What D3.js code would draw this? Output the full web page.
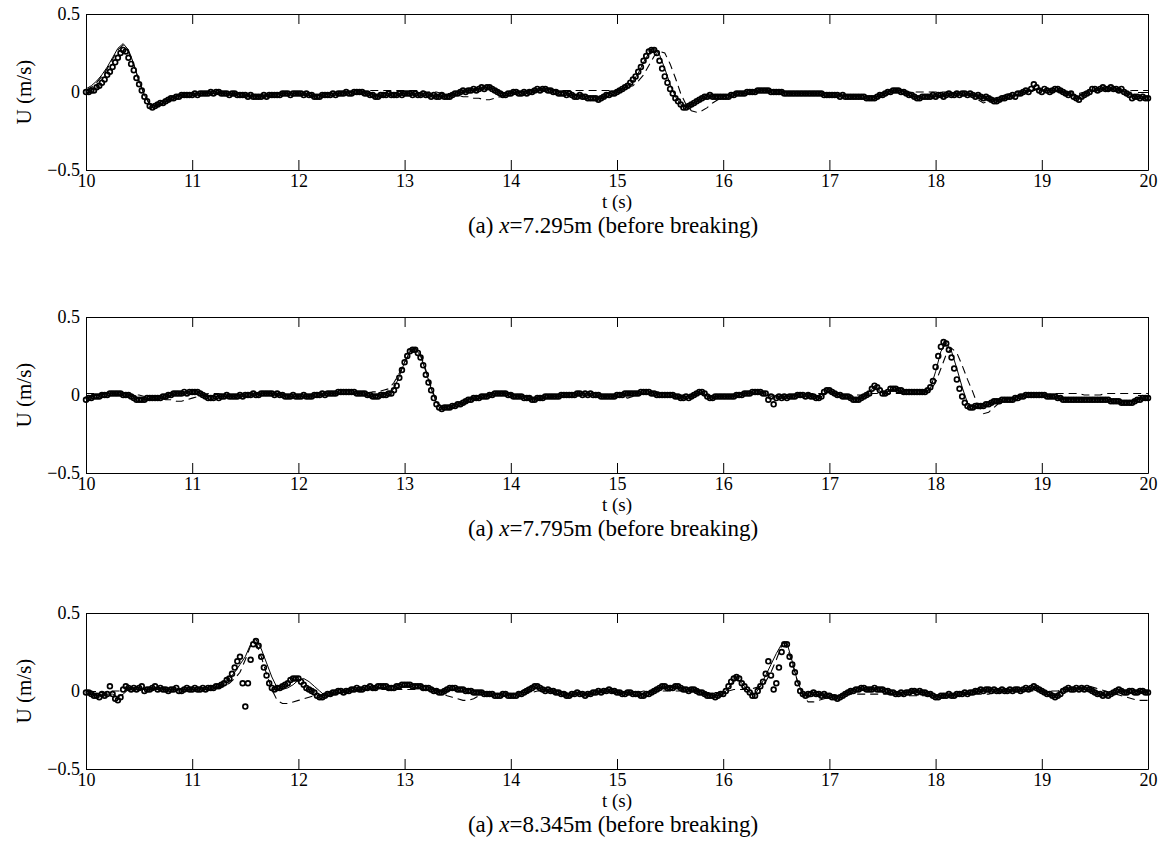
<!DOCTYPE html>
<html><head><meta charset="utf-8">
<script src="https://cdn.jsdelivr.net/npm/d3@7"></script>
<style>
body{margin:0;background:#fff}
svg{display:block;background:#fff}
</style>
</head><body><svg id="chart" width="1166" height="859"></svg>
<script>
// ---------------- data ----------------
const T_START = 10, T_END = 20;
const xTicks = [10, 11, 12, 13, 14, 15, 16, 17, 18, 19, 20];
const yTicks = [-0.5, 0, 0.5];
const yTickLabels = ["\u22120.5", "0", "0.5"];
const xLabel = "t (s)";
const yLabel = "U (m/s)";
const captionPrefix = ["(a) ", "(a) ", "(a) "];
const captionVar = ["x", "x", "x"];
const captionRest = ["=7.295m (before breaking)", "=7.795m (before breaking)", "=8.345m (before breaking)"];
const U_SCALE = 0.01; // series values below are in cm/s

// measured (circles), sampled every 0.025 s from 10 s to 20 s
const measured1 = [
0,0,1,1,3,4,6,8,11,13,16,19,22,25,27,26,22,18,14,9,5,1,-3,-6,-9,-10,-9,-8,-7,-7,-6,-5,-4,-4,-3,-3,-2,-2,-2,-2,
-2,-1,-2,-1,-1,-1,-1,0,-1,0,0,-1,-1,-1,-2,-1,-1,-2,-2,-2,-2,-3,-2,-3,-3,-3,-3,-2,-3,-2,-2,-2,-2,-2,-1,-1,-1,-2,-1,-1,
-1,-1,-2,-1,-2,-2,-3,-3,-3,-2,-2,-2,-2,-1,-2,-1,-1,-1,0,-1,-1,0,0,0,0,-1,-1,-2,-2,-3,-3,-2,-2,-2,-1,-2,-2,-2,-1,-2,
-1,-1,-1,-2,-1,-2,-2,-1,-2,-2,-3,-2,-3,-3,-2,-3,-3,-3,-2,-1,-1,0,1,0,1,1,2,1,2,3,2,3,3,2,1,0,-1,-2,-2,-1,
-1,0,0,-1,-1,0,-1,0,0,1,2,1,2,2,1,1,0,0,-1,-1,-1,-2,-1,-2,-3,-3,-2,-3,-3,-4,-4,-4,-4,-5,-4,-3,-2,-2,-1,-1,
0,1,2,3,4,6,8,10,13,16,20,23,26,27,27,25,20,15,10,6,2,-1,-4,-6,-8,-10,-10,-9,-8,-7,-6,-5,-4,-3,-3,-2,-3,-3,-3,-3,
-3,-3,-3,-2,-2,-1,-1,-1,-1,0,0,0,0,1,1,1,1,1,0,0,0,0,0,-1,-1,-1,-1,-1,-1,-1,-1,-1,-1,-1,-1,-1,-1,-1,-2,-2,
-2,-2,-2,-2,-3,-2,-3,-3,-3,-3,-3,-3,-3,-3,-4,-4,-4,-4,-3,-2,-2,-1,0,0,1,1,1,0,0,-1,-2,-2,-3,-4,-4,-3,-3,-3,-3,-2,
-3,-2,-2,-3,-2,-1,-2,-2,-1,-2,-1,-1,-2,-1,-2,-3,-2,-3,-4,-3,-4,-5,-6,-6,-5,-4,-4,-3,-3,-2,-3,-1,-1,0,1,0,2,5,3,1,
0,2,1,0,1,2,2,1,0,-1,-2,-1,-3,-4,-5,-3,-2,-1,0,2,2,1,2,3,2,2,3,2,2,1,2,0,-1,-2,-4,-3,-3,-4,-3,-4,
-4];
const measured2 = [
-3,-2,-2,-1,-1,-1,0,0,0,1,1,1,1,1,0,0,0,-1,-2,-3,-3,-3,-3,-2,-2,-2,-2,-2,-2,-1,-1,0,0,1,1,1,1,2,1,2,
2,2,2,1,0,-1,-2,-2,-2,-1,-2,-1,-1,0,-1,-1,-1,-1,0,-1,0,0,0,1,0,0,1,1,1,1,1,0,1,0,0,-1,-1,-1,0,-1,
-1,-1,0,-1,-1,-1,0,0,0,1,0,1,1,1,1,2,2,2,2,2,2,2,1,1,1,1,0,0,-1,-1,-1,0,0,0,1,1,3,6,11,16,
21,25,28,29,29,27,24,19,13,8,3,-2,-6,-8,-9,-8,-8,-8,-7,-7,-6,-6,-5,-4,-3,-3,-2,-2,-2,-1,-1,-1,0,0,1,1,1,1,1,0,
0,-1,-1,-1,-1,-2,-2,-2,-3,-3,-2,-2,-2,-1,-1,-1,-1,-1,-1,0,0,0,0,0,0,1,1,0,1,0,1,0,0,0,-1,-1,-1,-1,-1,-1,
0,0,0,1,1,1,1,1,1,2,2,2,2,1,1,0,0,0,0,0,0,0,-1,-1,-2,-2,-1,-2,-1,0,1,2,2,1,-1,-2,-2,-1,-1,-1,
-1,-1,-1,-1,-1,0,0,0,1,1,1,2,2,2,2,1,1,-3,-1,-6,-2,-1,-2,-1,-2,-1,-1,-1,0,0,0,-1,0,-1,-1,-2,-2,-1,2,3,
3,2,1,0,0,-1,-1,-1,-2,-3,-3,-3,-2,-1,0,1,4,6,5,3,1,1,2,4,4,4,3,3,2,2,2,2,2,2,2,2,2,3,5,9,
18,25,31,34,33,29,24,17,10,4,-1,-5,-7,-8,-8,-7,-7,-7,-7,-6,-6,-5,-4,-4,-4,-3,-3,-3,-3,-3,-2,-2,-1,-1,0,0,0,0,0,0,
0,0,-1,-1,-1,-1,-2,-2,-3,-3,-3,-3,-3,-3,-3,-3,-3,-3,-3,-3,-3,-3,-3,-3,-3,-3,-4,-4,-4,-4,-5,-5,-5,-5,-5,-4,-3,-3,-2,-2,
-2];
const measured3 = [
-1,-1,-2,-3,-3,-4,-2,-3,-2,3,-2,-5,-6,-4,1,3,2,1,2,1,2,3,0,1,1,2,3,1,2,1,1,0,1,1,2,0,0,1,2,1,
1,2,1,1,2,1,2,2,2,3,3,4,5,7,8,11,15,19,22,5,-10,5,20,30,32,29,22,15,10,5,2,1,2,2,3,4,5,7,8,8,
8,6,4,2,1,0,-1,-3,-4,-4,-3,-2,-2,-1,-1,0,0,-1,0,0,1,1,2,1,1,2,2,3,2,2,3,3,3,3,2,2,2,3,3,4,
4,4,4,3,3,3,3,2,2,2,1,0,0,-1,-1,0,1,2,2,2,1,1,1,0,0,0,-1,-1,-1,-1,-2,-2,-2,-2,-3,-3,-3,-2,-2,-3,
-3,-3,-3,-2,-2,-1,0,1,2,3,3,2,1,0,1,0,0,-1,-1,-2,-2,-3,-3,-2,-2,-1,-2,-2,-3,-2,-2,-1,-1,0,-1,0,0,1,0,0,
-1,-1,-2,-2,-1,-1,-2,-2,-2,-3,-3,-2,-2,-1,0,1,2,3,3,2,2,2,3,3,2,1,1,0,1,1,0,-1,-1,-2,-3,-3,-3,-4,-3,-2,
-2,0,3,6,8,9,8,5,3,1,-1,-3,-3,0,3,6,11,19,10,1,5,15,25,30,30,22,17,12,5,0,-2,-3,-2,-2,-1,-2,-2,-3,-2,-3,
-3,-4,-4,-5,-4,-3,-2,-1,0,0,1,1,2,2,1,1,1,2,1,1,1,0,0,-1,-1,-2,-2,-1,-2,-1,-1,0,0,-1,0,-1,-1,-2,-2,-3,
-4,-4,-3,-3,-3,-2,-3,-3,-2,-2,-2,-1,-2,-1,-1,0,0,1,0,1,1,0,1,0,0,1,0,0,1,0,1,1,0,1,2,1,2,3,2,1,
0,-1,-2,-2,-3,-4,-3,-2,0,1,2,1,1,2,1,2,1,2,1,0,-1,-2,-2,-3,-2,-3,-2,-1,0,1,0,-1,-1,0,0,-1,-1,0,0,-1,
-1];

// model, solid line, sampled every 0.05 s
const solid1 = [
2,4,7,11,16,22,28,31,27,18,7,-2,-8,-9,-8,-6,-4,-3,-2,-2,
-2,-1,-1,-1,-1,0,-1,-1,-1,-2,-2,-3,-3,-3,-2,-2,-2,-1,-1,-1,
-1,-2,-2,-3,-2,-2,-1,-1,-1,0,0,0,0,-1,-2,-3,-2,-2,-2,-2,
-1,-1,-2,-2,-2,-2,-3,-3,-3,-2,-1,0,1,1,2,3,3,2,0,-1,
-1,0,0,0,0,1,2,2,1,0,0,-1,-2,-2,-3,-3,-4,-4,-3,-2,
0,2,4,7,12,19,25,28,24,15,5,-3,-8,-10,-8,-6,-4,-3,-3,-3,
-3,-2,-2,-1,-1,0,0,1,1,0,0,0,-1,-1,-1,-1,-1,-1,-1,-2,
-2,-2,-2,-3,-3,-3,-3,-4,-4,-3,-2,0,1,1,0,-2,-3,-4,-3,-3,
-3,-2,-2,-2,-1,-1,-2,-2,-2,-3,-5,-6,-5,-4,-3,-2,-1,0,1,2,
1,1,1,1,0,-1,-2,-3,-1,0,1,2,2,2,2,1,-1,-2,-3,-3,
-3];
const solid2 = [
-2,-1,0,0,1,1,1,0,0,-1,-2,-3,-2,-2,-2,-1,0,1,1,2,
2,2,0,-1,-1,-1,-1,-1,-1,0,0,0,0,1,1,1,0,0,-1,-1,
-1,-1,-1,0,0,1,1,1,2,2,2,1,1,0,-1,0,0,1,4,12,
21,28,30,25,15,4,-5,-8,-8,-7,-6,-5,-3,-2,-2,-1,0,1,1,1,
0,-1,-1,-2,-3,-2,-2,-1,-1,-1,0,0,0,1,1,0,0,-1,-1,-1,
0,0,1,1,1,2,2,1,0,0,0,-1,-2,-1,-1,1,2,-1,-2,-1,
-1,-1,-1,0,1,1,2,2,1,-1,-2,-2,-1,-1,0,0,0,-1,-2,0,
3,1,0,-1,-2,-3,-2,0,4,4,1,2,4,3,2,2,2,2,2,4,
15,28,33,28,17,5,-5,-8,-7,-7,-6,-4,-4,-3,-3,-2,-1,0,0,0,
0,-1,-1,-2,-3,-3,-3,-3,-3,-3,-3,-3,-3,-4,-4,-5,-5,-4,-3,-2,
-2];
const solid3 = [
-1,-2,-3,-2,-2,-2,-4,-2,1,2,2,1,1,2,2,1,1,1,1,1,
1,1,2,2,2,3,5,8,12,17,22,30,33,27,18,9,2,1,2,4,
7,8,6,3,0,-3,-3,-2,-1,0,0,1,1,1,2,2,2,3,3,2,
3,4,4,3,3,2,1,0,0,1,2,2,1,0,-1,-1,-2,-2,-2,-3,
-3,-2,0,2,3,2,1,0,-1,-2,-2,-3,-2,-2,-2,-2,-1,0,0,0,
-1,-2,-1,-2,-3,-2,-1,1,2,3,2,3,2,1,1,0,-1,-3,-3,-3,
-2,2,7,7,3,-1,-2,3,10,17,24,30,31,19,6,-2,-4,-3,-2,-3,
-4,-4,-3,-1,0,1,2,1,1,1,0,-1,-2,-2,-1,-1,0,-1,-1,-2,
-4,-3,-3,-3,-2,-2,-2,-1,0,0,1,1,0,0,0,1,1,1,1,2,
0,-2,-3,-2,1,1,1,2,1,1,-1,-2,-3,-2,-1,0,-1,-1,0,-1,
-1];

// model, dashed line, sampled every 0.05 s
const dashed1 = [
1,3,6,10,15,21,27,30,26,17,7,-2,-8,-9,-8,-6,-4,-3,-2,-2,
-1,-1,-1,0,0,-1,-1,-1,-2,-2,-2,-3,-3,-2,-2,-2,-1,-1,-1,-1,
-1,-2,-2,-3,-2,-2,-1,-1,-1,0,0,0,0,1,1,1,1,1,1,1,
1,1,1,1,0,0,0,-1,-1,-1,-2,-3,-3,-4,-4,-5,-5,-4,-3,-2,
-1,0,0,1,1,1,1,1,1,1,1,1,1,1,1,1,1,1,1,1,
1,2,3,4,7,11,17,23,26,25,18,9,-1,-8,-12,-13,-12,-10,-7,-5,
-3,-2,-1,0,0,0,1,1,1,1,0,0,0,-1,-1,-1,-1,-2,-2,-2,
-2,-2,-2,-2,-3,-3,-3,-3,-3,-2,-1,0,0,0,0,0,0,0,0,0,
0,0,0,0,0,-1,-1,-2,-5,-7,-6,-4,-3,-2,-1,0,0,1,1,1,
1,1,1,0,0,0,-1,-1,0,0,1,1,1,1,1,0,0,1,1,1,
1];
const dashed2 = [
1,1,1,1,1,1,0,0,0,0,0,-1,-1,-2,-2,-3,-3,-4,-4,-3,
-2,-1,0,1,1,1,0,0,-1,-1,-1,0,0,1,1,1,1,0,-1,-1,
-1,-1,-1,0,0,1,1,1,1,1,1,1,1,1,2,2,3,4,8,14,
21,27,30,26,16,5,-4,-8,-9,-8,-7,-6,-4,-3,-2,-1,0,1,1,1,
1,0,0,-1,-1,-2,-2,-2,-1,-1,0,0,0,1,1,1,1,0,0,-1,
-1,-1,-2,-1,0,1,1,2,2,1,1,0,0,0,0,0,0,0,-1,-1,
-1,-1,0,0,1,1,1,1,0,0,0,0,0,0,0,0,1,1,1,1,
1,1,0,0,0,0,0,0,1,1,1,1,1,1,1,1,1,2,2,3,
8,17,26,30,27,19,10,2,-7,-12,-11,-8,-5,-3,-2,-1,0,0,0,0,
0,0,1,1,1,1,1,1,0,0,0,0,1,1,1,1,1,1,1,1,
1];
const dashed3 = [
0,0,-1,-1,-1,0,0,0,1,1,1,1,1,1,1,1,1,1,1,1,
1,1,1,1,2,2,3,5,8,12,20,29,31,22,11,1,-6,-8,-8,-7,
-6,-5,-4,-3,-3,-2,-2,-1,-1,0,0,0,1,1,1,1,1,1,1,1,
1,1,1,1,1,1,0,-1,-3,-4,-5,-6,-6,-5,-3,-2,-2,-2,-2,-2,
-2,-2,-1,-1,-1,0,0,0,0,-1,-1,-1,-2,-2,-2,-2,-1,-1,-1,-1,
-1,-1,-1,-1,-1,0,0,0,0,0,0,0,0,0,0,0,-1,-1,-1,-1,
0,0,1,1,1,1,2,3,6,12,20,29,28,18,6,-3,-7,-7,-6,-5,
-4,-3,-3,-2,-2,-2,-2,-2,-2,-2,-2,-2,-2,-2,-3,-3,-3,-3,-3,-3,
-3,-3,-3,-3,-2,-2,-2,-2,-2,-2,-2,-1,-1,0,0,0,0,0,0,0,
0,0,0,0,1,1,2,2,3,3,2,1,0,-1,-2,-3,-4,-5,-6,-6,
-6];

const panelMeasured = [measured1, measured2, measured3];
const panelSolid = [solid1, solid2, solid3];
const panelDashed = [dashed1, dashed2, dashed3];

// ---------------- layout ----------------
const W = 1166, H = 859;
const plotLeft = 86, plotWidth = 1062, plotHeight = 156;
const panelTops = [14, 317, 613];
const FONT = "'Liberation Serif','Times New Roman',serif";

const svg = d3.select("#chart");
svg.append("rect").attr("width", W).attr("height", H).attr("fill", "#fff");

const x = d3.scaleLinear().domain([T_START, T_END]).range([0, plotWidth]);
const y = d3.scaleLinear().domain([-0.5, 0.5]).range([plotHeight, 0]);

function toPoints(arr) {
  const n = arr.length;
  return arr.map((v, i) => ({ t: T_START + i * (T_END - T_START) / (n - 1), u: v * U_SCALE }));
}

const line = d3.line().x(d => x(d.t)).y(d => y(d.u));

panelTops.forEach((top, p) => {
  const g = svg.append("g").attr("transform", `translate(${plotLeft},${top})`);

  // dashed model
  g.append("path").datum(toPoints(panelDashed[p]))
    .attr("d", line).attr("fill", "none").attr("stroke", "#000")
    .attr("stroke-width", 1.1).attr("stroke-dasharray", "8,5");

  // solid model
  g.append("path").datum(toPoints(panelSolid[p]))
    .attr("d", line).attr("fill", "none").attr("stroke", "#000")
    .attr("stroke-width", 1);

  // measured circles
  g.append("g").selectAll("circle").data(toPoints(panelMeasured[p])).join("circle")
    .attr("cx", d => x(d.t)).attr("cy", d => y(d.u)).attr("r", 2.4)
    .attr("fill", "none").attr("stroke", "#000").attr("stroke-width", 1.7);

  // axes (ticks inward, box from domains)
  const axB = g.append("g").attr("transform", `translate(0,${plotHeight})`)
    .call(d3.axisBottom(x).tickValues(xTicks).tickSizeInner(-10).tickSizeOuter(0)
      .tickPadding(4).tickFormat(d3.format("d")));
  const axT = g.append("g")
    .call(d3.axisTop(x).tickValues(xTicks).tickSizeInner(-10).tickSizeOuter(0).tickFormat(""));
  const axL = g.append("g")
    .call(d3.axisLeft(y).tickValues(yTicks).tickSizeInner(-10).tickSizeOuter(0)
      .tickPadding(6).tickFormat((d, i) => yTickLabels[i]));
  const axR = g.append("g").attr("transform", `translate(${plotWidth},0)`)
    .call(d3.axisRight(y).tickValues(yTicks).tickSizeInner(-10).tickSizeOuter(0).tickFormat(""));

  [axB, axT, axL, axR].forEach(a => {
    a.attr("font-family", FONT).attr("font-size", 18);
    a.selectAll(".domain").attr("stroke", "#000").attr("stroke-width", 1);
    a.selectAll(".tick line").attr("stroke", "#000").attr("stroke-width", 1);
    a.selectAll(".tick text").attr("fill", "#000").attr("font-family", FONT).attr("font-size", 18);
  });

  // x label
  g.append("text").attr("x", plotWidth / 2).attr("y", plotHeight + 38)
    .attr("text-anchor", "middle").attr("font-family", FONT).attr("font-size", 19).text(xLabel);

  // y label
  g.append("text")
    .attr("transform", `translate(${31 - plotLeft},${plotHeight / 2}) rotate(-90)`)
    .attr("text-anchor", "middle").attr("font-family", FONT).attr("font-size", 21).text(yLabel);

  // caption
  const cap = g.append("text").attr("x", plotWidth / 2 - 4).attr("y", plotHeight + 63)
    .attr("text-anchor", "middle").attr("font-family", FONT).attr("font-size", 23);
  cap.append("tspan").text(captionPrefix[p]);
  cap.append("tspan").attr("font-style", "italic").text(captionVar[p]);
  cap.append("tspan").text(captionRest[p]);
});
</script>
</body></html>
